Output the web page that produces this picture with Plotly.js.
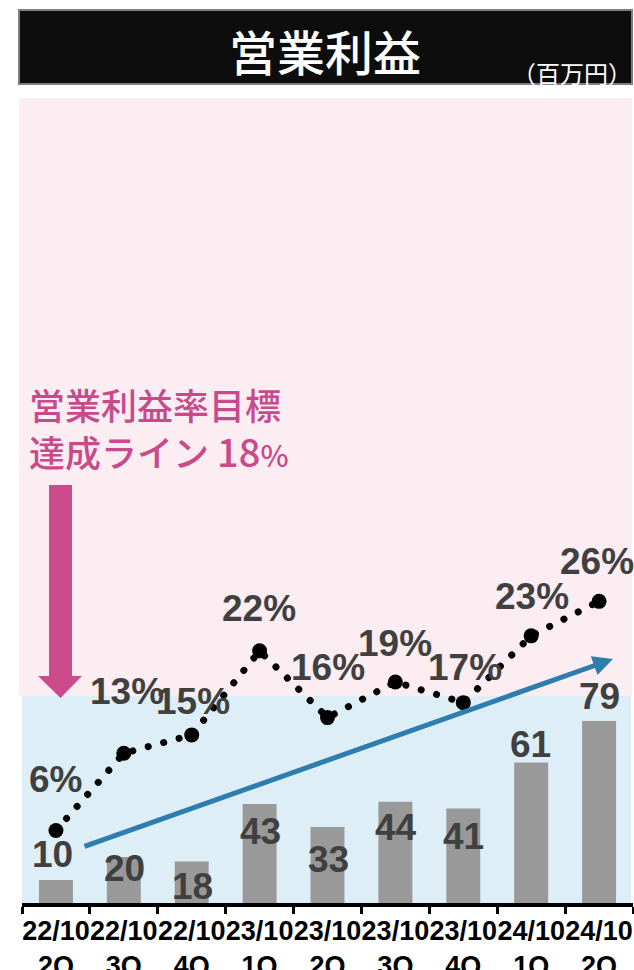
<!DOCTYPE html>
<html>
<head>
<meta charset="utf-8">
<script src="https://cdn.plot.ly/plotly-3.0.1.min.js"></script>
<style>
  html, body { margin: 0; padding: 0; background: #ffffff; }
  #chart { width: 634px; height: 970px; }
  .scatterlayer .js-line { stroke-linecap: round !important; }
</style>
</head>
<body>
<div id="chart"></div>
<script>
// ---- data ----
const categories = ['22/10<br>2Q', '22/10<br>3Q', '22/10<br>4Q', '23/10<br>1Q', '23/10<br>2Q', '23/10<br>3Q', '23/10<br>4Q', '24/10<br>1Q', '24/10<br>2Q'];
const profit = [10, 20, 18, 43, 33, 44, 41, 61, 79];          // 営業利益（百万円）
const marginRate = [6.3, 13.0, 14.6, 21.9, 16.1, 19.2, 17.4, 23.2, 26.2]; // 営業利益率 %
const marginLabels = ['6%', '13%', '15%', '22%', '16%', '19%', '17%', '23%', '26%'];
const targetRate = 18;
const titleText = '営業利益';
const unitText = '（百万円）';
const targetText = '営業利益率目標<br>達成ライン <span style="font-size:38px">18</span><span style="font-size:30px">%</span>';

// ---- style ----
const W = 634, H = 970;
const M = { l: 22, r: 1, t: 97, b: 67 };
const PW = W - M.l - M.r, PH = H - M.t - M.b;
const yMax = 350, y2Max = 70;
const profitShiftY = [25, -12, -25, -28, -32, -26, -28, 18, 25];
const profitShiftX = [-3, 1, 1, 1, 1, 1, 0, -1, 0];
const rateShiftY = [51, 62, 33, 42, 50, 38, 35, 39, 40];
const rateShiftX = [0, 3, 1, -1, 0, 0, 2, 1, -2];
const numFont = { family: 'Liberation Sans, Arial, sans-serif', size: 37, color: '#404040', weight: 700 };
const jpFont = 'Noto Sans CJK JP, Noto Sans, sans-serif';
const pink = '#c94a8a';

// pixel -> paper helpers (for decorations only)
const px = x => (x - M.l) / PW;
const py = y => (H - M.b - y) / PH;

const traces = [
  {
    type: 'bar', x: categories, y: profit, yaxis: 'y',
    width: 0.5, marker: { color: '#999999' }, hoverinfo: 'skip'
  },
  {
    type: 'scatter', mode: 'lines+markers', x: categories, y: marginRate, yaxis: 'y2',
    line: { color: '#000000', width: 7, dash: '0.1px,15.9px' },
    marker: { color: '#000000', size: 15 }, hoverinfo: 'skip'
  }
];

const annotations = [];
profit.forEach((v, i) => annotations.push({
  x: categories[i], y: v, xref: 'x', yref: 'y', text: String(v), showarrow: false,
  xanchor: 'center', yanchor: 'middle', yshift: profitShiftY[i], xshift: profitShiftX[i], font: numFont
}));
marginRate.forEach((v, i) => annotations.push({
  x: categories[i], y: v, xref: 'x', yref: 'y2', text: marginLabels[i], showarrow: false,
  xanchor: 'center', yanchor: 'middle', yshift: rateShiftY[i], xshift: rateShiftX[i], font: numFont
}));
// title
annotations.push({ x: px(325), y: py(50), xref: 'paper', yref: 'paper', text: titleText, showarrow: false,
  xanchor: 'center', yanchor: 'middle', font: { family: jpFont, size: 48, color: '#ffffff', weight: 500 } });
annotations.push({ x: px(572), y: py(72), xref: 'paper', yref: 'paper', text: unitText, showarrow: false,
  xanchor: 'center', yanchor: 'middle', font: { family: jpFont, size: 24, color: '#ffffff' } });
// target text
annotations.push({ x: px(27), y: py(428), xref: 'paper', yref: 'paper', text: targetText, showarrow: false,
  xanchor: 'left', yanchor: 'middle', align: 'left', font: { family: jpFont, size: 36, color: pink, weight: 500 } });
// trend arrow
annotations.push({ x: px(613), y: py(659), xref: 'paper', yref: 'paper', axref: 'pixel', ayref: 'pixel',
  ax: 83 - 613, ay: 847 - 659, text: '', showarrow: true, arrowhead: 2, arrowsize: 0.8, arrowwidth: 5,
  arrowcolor: '#2e7daf', standoff: 0, startstandoff: 0 });

const shapes = [
  // title box
  { type: 'rect', xref: 'paper', yref: 'paper', x0: px(19), x1: px(632), y0: py(84), y1: py(10),
    fillcolor: '#0d0d0d', line: { color: '#7f7f7f', width: 2 }, layer: 'above' },
  // pink zone (above target)
  { type: 'rect', xref: 'paper', yref: 'paper', x0: px(19), x1: px(632), y0: targetRate / y2Max, y1: py(98),
    fillcolor: '#fbedf2', line: { width: 0 }, layer: 'below' },
  // blue zone (below target)
  { type: 'rect', xref: 'paper', yref: 'paper', x0: px(22), x1: px(631), y0: 0, y1: targetRate / y2Max,
    fillcolor: '#ddeef7', line: { width: 0 }, layer: 'below' },
  // pink down arrow
  { type: 'path', xref: 'paper', yref: 'paper', layer: 'above',
    path: `M${px(49)},${py(485)} L${px(72)},${py(485)} L${px(72)},${py(676)} L${px(82)},${py(676)} L${px(60.5)},${py(698)} L${px(38)},${py(676)} L${px(49)},${py(676)} Z`,
    fillcolor: '#cc4b8c', line: { width: 0 } }
];

const layout = {
  width: W, height: H, margin: M,
  paper_bgcolor: '#ffffff', plot_bgcolor: 'rgba(0,0,0,0)',
  showlegend: false, bargap: 0.5,
  xaxis: {
    type: 'category', range: [-0.5, categories.length - 0.5], autorange: false,
    tickson: 'boundaries', ticks: 'outside', ticklen: 7, tickwidth: 3, tickcolor: '#000000',
    showline: true, linewidth: 3.5, linecolor: '#000000', showgrid: false, zeroline: false, automargin: false,
    tickfont: { family: 'Liberation Sans, Arial, sans-serif', size: 27, color: '#000000', weight: 700 },
    tickangle: 0, ticklabelstandoff: 1
  },
  yaxis: { range: [0, yMax], visible: false, fixedrange: true, automargin: false },
  yaxis2: { range: [0, y2Max], visible: false, overlaying: 'y', side: 'right', fixedrange: true, automargin: false },
  shapes: shapes,
  annotations: annotations
};

Plotly.newPlot('chart', traces, layout, { displayModeBar: false, staticPlot: true });
</script>
</body>
</html>
